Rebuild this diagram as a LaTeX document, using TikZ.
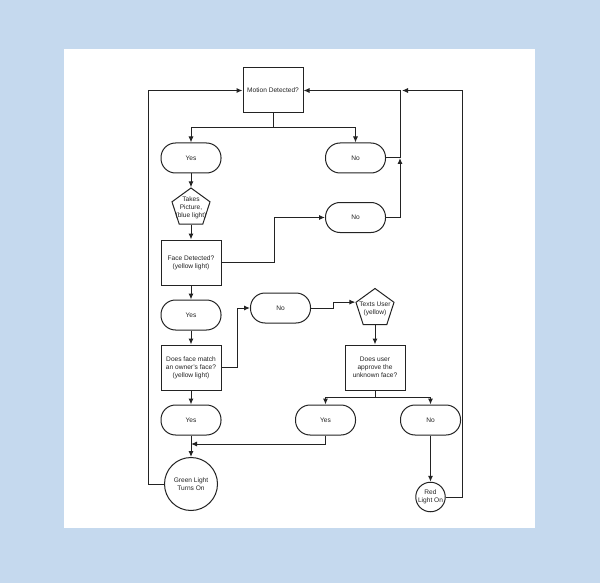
\documentclass[tikz,border=0pt]{standalone}
\usepackage{fontspec}
\setmainfont{Liberation Sans}
\usepackage{tikz}
\usetikzlibrary{shapes.geometric,arrows.meta,calc}
\definecolor{pageblue}{RGB}{197,217,238}
\definecolor{inkgray}{RGB}{35,35,35}

\begin{document}
\begin{tikzpicture}[x=1pt,y=-1pt,
    line width=1pt, draw=inkgray,
    >={Latex[length=6pt,width=5pt]},
    every node/.style={font=\fontsize{6.6}{8}\selectfont, text=inkgray, align=center},
    boxnode/.style={draw, rectangle, minimum width=60pt, minimum height=45pt, inner sep=0pt},
    pillnode/.style={draw, rectangle, rounded corners=14.5pt, minimum width=60pt, minimum height=30pt, inner sep=0pt},
    pentnode/.style={draw, regular polygon, regular polygon sides=5, minimum size=40pt, inner sep=0pt},
    lampnode/.style={draw, circle, inner sep=0pt}]
                    % page
                    \fill[pageblue] (0,0) rectangle (600,583);
                    \fill[white] (64,49) rectangle (535,528);
                    % left column
                    \node[boxnode] (motion) at (273,90.5) {Motion Detected?};
                    \node[pillnode] (yes1) at (191,158) {Yes};
                    \node[pillnode] (no1) at (355.5,158) {No};
                    \node[pentnode, label={[align=center]center:Takes\\Picture,\\(blue light)}] (pic) at (191,208) {};
                    \node[boxnode] (face) at (191,262.5) {Face Detected?\\(yellow light)};
                    \node[pillnode] (no2) at (355.5,217.5) {No};
                    \node[pillnode] (yes2) at (191,315) {Yes};
                    \node[boxnode] (match) at (191,367.5) {Does face match\\an owner's face?\\(yellow light)};
                    \node[pillnode] (yes4) at (191,420) {Yes};
                    \node[lampnode, minimum size=53pt] (green) at (191,484) {Green Light\\Turns On};
                    % right column
                    \node[pillnode] (no3) at (280.5,308) {No};
                    \node[pentnode, label={[align=center]center:Texts User\\(yellow)}] (texts) at (375,308.5) {};
                    \node[boxnode] (approve) at (375,367.5) {Does user\\approve the\\unknown face?};
                    \node[pillnode] (yes3) at (325.5,420) {Yes};
                    \node[pillnode] (no4) at (430.5,420) {No};
                    \node[lampnode, minimum size=29.5pt] (red) at (430.5,497) {Red\\Light On};
                    % junctions
                    \coordinate (msplit) at (273,128);
                    \coordinate (nojoin) at (400,158);
                    \coordinate (topjoin) at (402,90.5);
                    \coordinate (asplit) at (375,397);
                    \coordinate (gjoin) at (191,444);
                    % connectors
                    \draw (motion.south) -- (msplit);
                    \draw[->] (msplit) -| (yes1.north);
                    \draw[->] (msplit) -| (no1.north);
                    \draw[->] (yes1.south) -- (pic.north);
                    \draw[->] (pic.south) -- (face.north);
                    \draw[->] (face.east) -- ++(53,0) |- (no2.west);
                    \draw[->] (no2.east) -| (nojoin);
                    \draw[->] (no1.east) -- (nojoin) |- (motion.east);
                    \draw[->] (face.south) -- (yes2.north);
                    \draw[->] (yes2.south) -- (match.north);
                    \draw[->] (match.east) -- ++(16,0) |- (no3.west);
                    \draw[->] (no3.east) -- ++(22,0) |- (texts.corner 2);
                    \draw[->] (texts.south) -- (approve.north);
                    \draw (approve.south) -- (asplit);
                    \draw[->] (asplit) -| (yes3.north);
                    \draw[->] (asplit) -| (no4.north);
                    \draw[->] (match.south) -- (yes4.north);
                    \draw[->] (yes4.south) -- (green.north);
                    \draw[->] (yes3.south) |- (gjoin);
                    \draw[->] (no4.south) -- (red.north);
                    % loops back to the top
                    \draw[->] (green.west) -- ++(-15.5,0) |- (motion.west);
                    \draw[->] (red.east) -- ++(16.5,0) |- (topjoin);
\end{tikzpicture}
\end{document}
